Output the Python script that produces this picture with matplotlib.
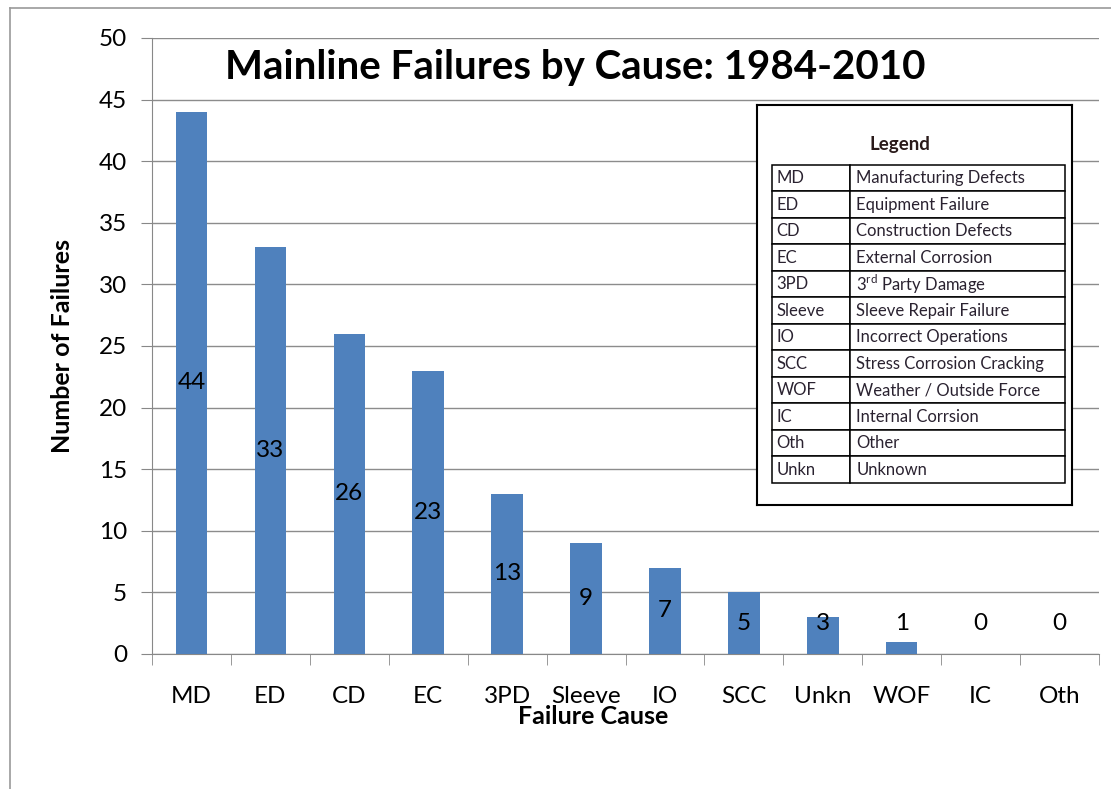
import numpy as np
import matplotlib.pyplot as plt
from matplotlib.lines import Line2D

plt.rcParams['font.family'] = ['Lato', 'DejaVu Sans']
plt.rcParams['mathtext.fontset'] = 'custom'
plt.rcParams['mathtext.rm'] = 'Lato'

# Dados
causas = ['MD', 'ED', 'CD', 'EC', '3PD', 'Sleeve', 'IO', 'SCC', 'Unkn', 'WOF', 'IC', 'Oth']
falhas = [44, 33, 26, 23, 13, 9, 7, 5, 3, 1, 0, 0]

leg_codigos = ['MD', 'ED', 'CD', 'EC', '3PD', 'Sleeve', 'IO', 'SCC', 'WOF', 'IC', 'Oth', 'Unkn']
leg_nomes = ['Manufacturing Defects', 'Equipment Failure', 'Construction Defects',
             'External Corrosion', '3$^{\\mathrm{rd}}$ Party Damage', 'Sleeve Repair Failure',
             'Incorrect Operations', 'Stress Corrosion Cracking', 'Weather / Outside Force',
             'Internal Corrsion', 'Other', 'Unknown']

W, H = 1111, 789
fig = plt.figure(figsize=(W / 100, H / 100), dpi=100)

# moldura externa
fig.add_artist(Line2D([10 / W, 10 / W], [0, 1 - 8 / H], color='#9a9a9a', lw=1.2))
fig.add_artist(Line2D([10 / W, 1], [1 - 8 / H, 1 - 8 / H], color='#9a9a9a', lw=1.2))

ax = fig.add_axes([152 / W, 1 - 654 / H, (1099 - 152) / W, (654 - 38) / H])
x = np.arange(len(causas))
ax.bar(x, falhas, width=0.4, color='#4F81BD', zorder=3)

for xi, v in zip(x, falhas):
    ax.text(xi, max(v / 2, 2.45), str(v), ha='center', va='center', fontsize=17.5, zorder=4)

ax.set_xlim(-0.5, len(causas) - 0.5)
ax.set_ylim(0, 50)
ax.set_yticks(range(0, 51, 5))
ax.set_xticks(x)
ax.set_xticklabels(causas, fontsize=17.5)
ax.set_xticks(np.arange(-0.5, len(causas)), minor=True)
ax.tick_params(axis='x', which='major', length=0, pad=23)
ax.tick_params(axis='x', which='minor', length=8, color='#888888')
ax.tick_params(axis='y', length=8, color='#888888', labelsize=17.5, pad=10)
ax.grid(axis='y', color='#8c8c8c', lw=1, zorder=0)
for s in ['top', 'right']:
    ax.spines[s].set_visible(False)
for s in ['left', 'bottom']:
    ax.spines[s].set_color('#888888')

ax.set_ylabel('Number of Failures', fontsize=18, fontweight='bold', labelpad=18)
ax.set_xlabel('Failure Cause', fontsize=18, fontweight='bold')
ax.xaxis.set_label_coords((593 - 152) / (1099 - 152), -0.101, transform=ax.transAxes)
ax.xaxis.label.set_va('center')
fig.text(575 / W, 1 - 68 / H, 'Mainline Failures by Cause: 1984-2010',
         ha='center', va='center', fontsize=29, fontweight='bold')

# caixa da legenda
lx0, ly0, lx1, ly1 = 757, 105, 1072, 505
lax = fig.add_axes([lx0 / W, 1 - ly1 / H, (lx1 - lx0) / W, (ly1 - ly0) / H])
lax.set_xticks([])
lax.set_yticks([])
for s in lax.spines.values():
    s.set_color('black')
    s.set_linewidth(1.5)
lw_, lh_ = lx1 - lx0, ly1 - ly0
lax.text((900 - lx0) / lw_, (ly1 - 145) / lh_, 'Legend', ha='center', va='center',
         fontsize=13.5, fontweight='bold', color='#2a1a1a')
tab = lax.table(cellText=[[c, n] for c, n in zip(leg_codigos, leg_nomes)],
                colWidths=[78 / 293, 215 / 293], cellLoc='left',
                bbox=[(772 - lx0) / lw_, (ly1 - 483) / lh_, (1065 - 772) / lw_, (483 - 165) / lh_])
tab.auto_set_font_size(False)
for (r, c), cell in tab.get_celld().items():
    cell.set_fontsize(12)
    cell.set_linewidth(1.1)
    cell.get_text().set_color('#2a2230')
    cell.PAD = 0.06 if c == 0 else 0.03

fig.savefig('out.png', dpi=100)
